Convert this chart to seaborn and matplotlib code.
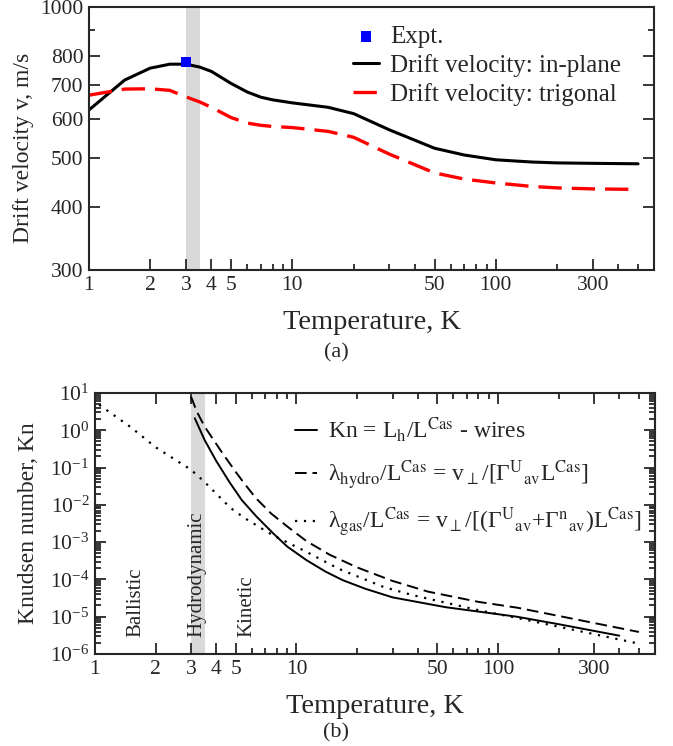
import matplotlib
matplotlib.use("Agg")
import matplotlib.pyplot as plt
import matplotlib.ticker as mticker
import seaborn as sns

# Panel (a): drift velocity vs temperature
temp_a = [1, 1.5, 2, 2.5, 3, 3.5, 4, 5, 6, 7, 8, 10, 15, 20, 30, 50, 70, 100, 150, 200, 300, 500]
v_inplane = [624, 716, 756, 770, 770, 760, 745, 705, 678, 662, 654, 645, 632, 614, 570, 524, 508, 497, 492, 490, 489, 488]
v_trigonal = [668, 687, 688, 683, 663, 648, 632, 603, 588, 582, 579, 576, 566, 551, 510, 468, 455, 447, 440, 437, 435, 434]
expt_temp = [3.0]
expt_v = [778]

# Panel (b): Knudsen numbers
temp_wires = [3.13, 3.5, 4, 4.66, 5.35, 6.3, 7.6, 9, 11.2, 14, 17, 22, 30, 55, 124, 200, 400]
kn_wires = [2.1, 0.55, 0.15, 0.04, 0.0135, 5.0e-3, 1.8e-3, 7.6e-4, 3.3e-4, 1.6e-4, 9.5e-5,
            5.6e-5, 3.3e-5, 1.8e-5, 1.0e-5, 6.3e-6, 3.1e-6]
temp_hydro = [3.0, 3.2, 3.5, 4.3, 5, 5.5, 6.3, 7.5, 9.2, 11.2, 14.6, 20, 30, 45, 80, 125, 200, 500]
kn_hydro = [7.9, 3.2, 1.26, 0.24, 0.076, 0.038, 0.015, 5.8e-3, 2.4e-3, 1.07e-3, 4.6e-4, 2.1e-4,
            9.1e-5, 4.7e-5, 2.5e-5, 1.74e-5, 1.05e-5, 3.9e-6]
temp_gas = [1.05, 1.5, 2, 3, 3.5, 4.7, 5.5, 7.6, 11.2, 16.3, 27, 37.6, 80, 124, 200, 500]
kn_gas = [4.8, 1.23, 0.35, 0.087, 0.041, 8.3e-3, 4.5e-3, 1.55e-3, 5.5e-4, 1.9e-4, 6.3e-5,
          3.8e-5, 1.5e-5, 9.3e-6, 5.4e-6, 1.9e-6]

x_major = [1, 2, 3, 4, 5, 10, 50, 100, 300]
x_minor = [6, 7, 8, 9, 20, 30, 40, 60, 70, 80, 90, 200, 400, 500]
band = (3.0, 3.5)

sns.set_style("ticks")
plt.rcParams['font.family'] = ['Liberation Serif', 'DejaVu Serif']
plt.rcParams['mathtext.fontset'] = 'stix'
plt.rcParams['axes.linewidth'] = 1.5

fig = plt.figure(figsize=(6.73, 7.46), dpi=100)
ax1 = fig.add_axes([0.132, 0.638, 0.840, 0.3525])
ax2 = fig.add_axes([0.141, 0.1233, 0.832, 0.350])


def setup_xaxis(ax, top):
    ax.set_xscale('log')
    ax.set_xlim(1, 600)
    ax.xaxis.set_major_locator(mticker.FixedLocator(x_major))
    ax.xaxis.set_minor_locator(mticker.FixedLocator(x_minor))
    ax.xaxis.set_major_formatter(mticker.FixedFormatter([str(v) for v in x_major]))
    ax.xaxis.set_minor_formatter(mticker.NullFormatter())
    ax.tick_params(which='both', direction='in', top=top, right=True, labelsize=15.5, width=1.3, pad=4)
    ax.tick_params(which='major', length=8)
    ax.tick_params(which='minor', length=4)
    ax.set_xlabel("Temperature, K", fontsize=20.5, labelpad=11)


# ---- panel (a)
ax1.axvspan(*band, color='#d9d9d9', lw=0, zorder=0)
sns.lineplot(x=temp_a, y=v_inplane, ax=ax1, color='black', lw=2.2, label="Drift velocity: in-plane")
sns.lineplot(x=temp_a, y=v_trigonal, ax=ax1, color='red', lw=2.4, linestyle=(0, (7, 3)),
             label="Drift velocity: trigonal")
sns.scatterplot(x=expt_temp, y=expt_v, ax=ax1, color='blue', marker='s', s=55, edgecolor='none',
                label="Expt.", zorder=5)
setup_xaxis(ax1, top=False)
ax1.set_yscale('log')
ax1.set_ylim(300, 1000)
ax1.yaxis.set_major_locator(mticker.FixedLocator([300, 400, 500, 600, 700, 800, 1000]))
ax1.yaxis.set_major_formatter(mticker.FixedFormatter(['300', '400', '500', '600', '700', '800', '1000']))
ax1.yaxis.set_minor_locator(mticker.FixedLocator([900]))
ax1.yaxis.set_minor_formatter(mticker.NullFormatter())
ax1.set_ylabel("Drift velocity v, m/s", fontsize=17)
ax1.yaxis.set_label_coords(-0.097, 0.465)

h, l = ax1.get_legend_handles_labels()
order = [2, 0, 1]
ax1.legend([h[i] for i in order], [l[i] for i in order], loc='upper left', bbox_to_anchor=(0.467, 0.93),
           frameon=False, fontsize=18, handlelength=1.05, handletextpad=0.45, labelspacing=0.24,
           borderaxespad=0, borderpad=0)

# ---- panel (b)
ax2.axvspan(*band, color='#d9d9d9', lw=0, zorder=0)
sns.lineplot(x=temp_wires, y=kn_wires, ax=ax2, color='black', lw=1.4,
             label=r"Kn = L$_{\mathrm{h}}$/L$^{\mathrm{Cas}}$ - wires")
sns.lineplot(x=temp_hydro, y=kn_hydro, ax=ax2, color='black', lw=1.4, linestyle=(0, (6, 3)),
             label=r"λ$_{\mathrm{hydro}}$/L$^{\mathrm{Cas}}$ = v$_{\perp}$/[Γ$^{\mathrm{U}}{}_{\mathrm{av}}$L$^{\mathrm{Cas}}$]")
sns.lineplot(x=temp_gas, y=kn_gas, ax=ax2, color='black', lw=1.6, linestyle=(0, (1, 3)),
             label=r"λ$_{\mathrm{gas}}$/L$^{\mathrm{Cas}}$ = v$_{\perp}$/[(Γ$^{\mathrm{U}}{}_{\mathrm{av}}$+Γ$^{\mathrm{n}}{}_{\mathrm{av}}$)L$^{\mathrm{Cas}}$]")
setup_xaxis(ax2, top=True)
ax2.set_yscale('log')
ax2.set_ylim(1e-6, 1e1)
ax2.yaxis.set_major_locator(mticker.LogLocator(base=10, numticks=20))
ax2.yaxis.set_minor_locator(mticker.LogLocator(base=10, subs=range(2, 10), numticks=20))
ax2.yaxis.set_minor_formatter(mticker.NullFormatter())
ax2.set_ylabel("Knudsen number, Kn", fontsize=17)
ax2.yaxis.set_label_coords(-0.1, 0.5)
ax2.legend(loc='upper left', bbox_to_anchor=(0.357, 0.915), frameon=False, fontsize=17,
           handlelength=0.95, handletextpad=0.45, labelspacing=0.6, borderaxespad=0, borderpad=0)

for name, t in [("Ballistic", 1.6), ("Hydrodynamic", 3.2), ("Kinetic", 5.7)]:
    ax2.text(t, 2.9e-6, name, rotation=90, ha='center', va='bottom', fontsize=15)

fig.text(0.5, 1 - 353 / 746, "(a)", ha='center', va='center', fontsize=16)
fig.text(0.5, 1 - 733 / 746, "(b)", ha='center', va='center', fontsize=16)

fig.savefig("out.png", dpi=100)
